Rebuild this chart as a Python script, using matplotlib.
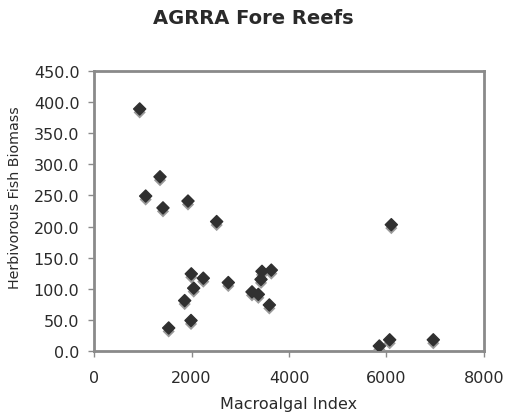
import matplotlib
matplotlib.use("Agg")
import matplotlib.pyplot as plt
import matplotlib.patheffects as pe

# Macroalgal index vs herbivorous fish biomass
macroalgal = [937, 1354, 1060, 1415, 1928, 2516, 1996, 2242, 2045, 1860,
              1990, 1532, 2755, 3446, 3637, 3426, 3241, 3371, 3597,
              6099, 5853, 6065, 6960]
biomass = [389, 280, 249, 230, 241, 208, 124, 117, 101, 81,
           49, 37, 110, 128, 130, 115, 95, 91, 74,
           203, 8, 18, 18]

x_ticks = [0, 2000, 4000, 6000, 8000]
y_ticks = [0, 50, 100, 150, 200, 250, 300, 350, 400, 450]

frame_col = "#8a8a8a"
text_col = "#2a2a2a"

fig = plt.figure(figsize=(5.06, 4.14), dpi=100)
ax = fig.add_axes([94 / 506, 62 / 414, 390 / 506, 280 / 414])

ax.scatter(macroalgal, biomass, marker="D", s=38, color="#303030", zorder=3,
           path_effects=[pe.SimplePatchShadow(offset=(0, -2.5), shadow_rgbFace="#9a9a9a", alpha=1.0),
                         pe.Normal()])

ax.set_xlim(0, 8000)
ax.set_ylim(0, 450)
ax.set_xticks(x_ticks)
ax.set_yticks(y_ticks)
ax.set_xticklabels([str(v) for v in x_ticks])
ax.set_yticklabels([f"{v:.1f}" for v in y_ticks])

for s in ax.spines.values():
    s.set_color(frame_col)
    s.set_linewidth(2)

ax.tick_params(axis="both", direction="out", length=4.5, width=1, color=frame_col,
               labelsize=11.5, labelcolor=text_col, pad=6)
ax.tick_params(axis="x", pad=9)

ax.set_xlabel("Macroalgal Index", fontsize=11.5, color=text_col, labelpad=8)
ax.set_ylabel("Herbivorous Fish Biomass", fontsize=10.3, color=text_col)
ax.yaxis.set_label_coords(-0.185, 0.553)
fig.text(0.5, 0.955, "AGRRA Fore Reefs", ha="center", va="center",
         fontsize=14, fontweight="bold", color=text_col)

fig.savefig("out.png", dpi=100)
